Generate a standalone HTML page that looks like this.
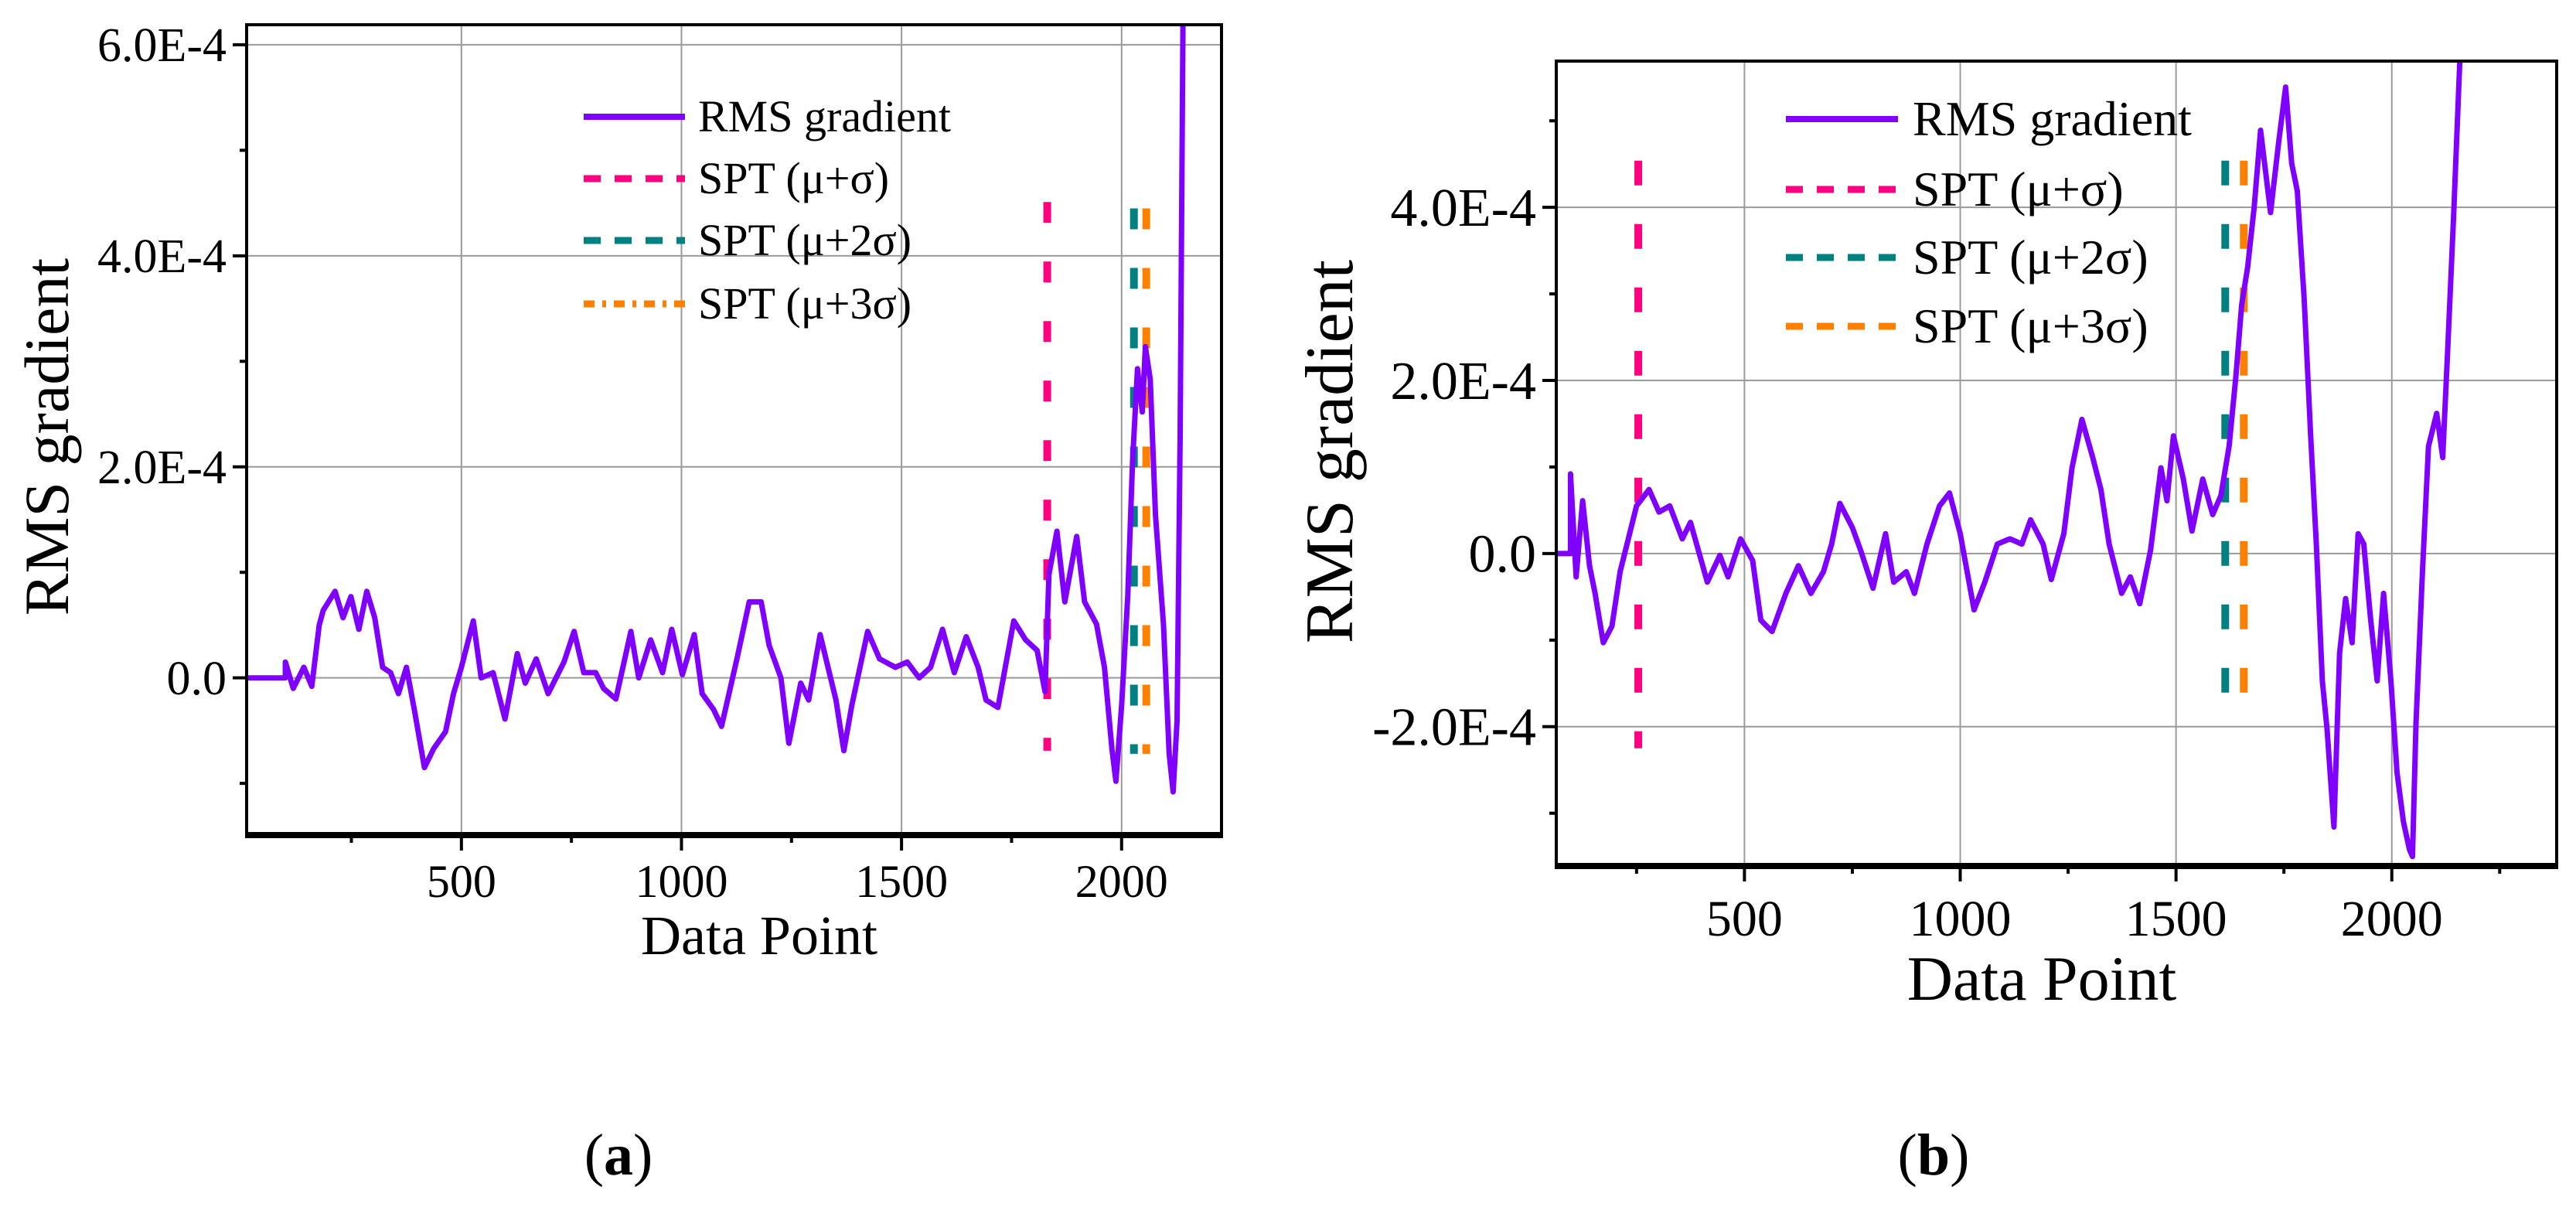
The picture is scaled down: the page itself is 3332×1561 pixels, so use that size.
<!DOCTYPE html>
<html><head><meta charset="utf-8"><style>
html,body{margin:0;padding:0;background:#fff}
svg{display:block}
text{font-family:"Liberation Serif","DejaVu Serif",serif;fill:#000}
</style></head><body>
<svg id="fig" width="3332" height="1561" viewBox="0 0 3332 1561" xmlns="http://www.w3.org/2000/svg">
<text x="800" y="1519" font-size="76" text-anchor="middle">(<tspan font-weight="bold">a</tspan>)</text>
<text x="2501" y="1519" font-size="76" text-anchor="middle">(<tspan font-weight="bold">b</tspan>)</text>
</svg>
<script>
// Panel (a) data
const aX = [12,100,100,118,142,160,177,186,213,231,249,267,285,303,321,339,357,375,393,416,437,464,482,500,527,545,572,599,627,645,670,697,733,756,778,805,823,851,885,903,930,957,978,1002,1029,1047,1073,1091,1127,1154,1181,1199,1226,1244,1271,1289,1315,1333,1351,1369,1387,1423,1450,1486,1513,1540,1566,1593,1620,1647,1674,1692,1719,1755,1782,1808,1826,1835,1853,1871,1898,1916,1943,1961,1978,1987,2000,2014,2025,2036,2047,2054,2065,2077,2095,2108,2117,2126,2133,2140];
const aY = [0,0,0.15,-0.1,0.1,-0.08,0.5,0.64,0.82,0.57,0.77,0.46,0.82,0.57,0.1,0.05,-0.15,0.1,-0.3,-0.85,-0.67,-0.51,-0.15,0.1,0.54,0,0.05,-0.39,0.23,-0.05,0.18,-0.15,0.15,0.44,0.05,0.05,-0.1,-0.2,0.44,0,0.36,0.05,0.46,0.03,0.41,-0.15,-0.3,-0.46,0.2,0.72,0.72,0.31,0,-0.62,-0.05,-0.21,0.41,0.1,-0.21,-0.69,-0.26,0.44,0.18,0.1,0.15,0,0.1,0.46,0.05,0.39,0.1,-0.21,-0.28,0.54,0.36,0.26,-0.13,0.98,1.39,0.72,1.34,0.72,0.51,0.1,-0.67,-0.98,-0.26,0.77,2.06,2.93,2.52,3.14,2.83,1.54,0.51,-0.72,-1.08,-0.41,2.31,6.6];
const aSPT = [1831,2028,2056];
const aSPTtop = [4.51,4.45,4.45];
const aSPTbot = [-0.69,-0.72,-0.72];
const aYTicks = [0,2,4,6];
const aYTickLabels = ["0.0","2.0E-4","4.0E-4","6.0E-4"];
const aYMinor = [-1,1,3,5];
const aXTicks = [500,1000,1500,2000];
const aXMinor = [250,750,1250,1750];
// Panel (b) data
const bX = [64,97,97,110,125,141,154,173,193,212,231,250,279,302,327,356,375,414,443,462,491,519,538,564,596,625,654,683,702,721,750,769,798,827,846,875,894,923,952,975,1000,1032,1057,1086,1115,1143,1163,1192,1211,1240,1259,1282,1307,1326,1345,1374,1394,1416,1441,1465,1479,1494,1517,1537,1562,1585,1604,1623,1639,1652,1666,1681,1696,1719,1738,1754,1768,1781,1797,1812,1825,1839,1850,1866,1879,1893,1908,1922,1935,1950,1966,1981,1998,2012,2027,2041,2048,2056,2071,2085,2104,2118,2129,2143,2160];
const bY = [0,0,0.92,-0.27,0.61,-0.14,-0.46,-1.03,-0.84,-0.21,0.17,0.55,0.74,0.48,0.55,0.17,0.36,-0.33,-0.02,-0.27,0.17,-0.08,-0.77,-0.9,-0.46,-0.14,-0.46,-0.21,0.11,0.58,0.3,0.04,-0.4,0.23,-0.33,-0.21,-0.46,0.11,0.55,0.7,0.23,-0.65,-0.33,0.11,0.17,0.11,0.39,0.11,-0.3,0.23,0.99,1.55,1.11,0.74,0.11,-0.46,-0.27,-0.58,0.04,0.99,0.61,1.36,0.86,0.26,0.86,0.45,0.67,1.24,2.06,2.87,3.31,4.0,4.89,3.94,4.76,5.39,4.51,4.19,2.94,1.36,0.11,-1.47,-2.03,-3.16,-1.15,-0.52,-1.03,0.23,0.11,-0.71,-1.47,-0.46,-1.47,-2.53,-3.1,-3.42,-3.5,-1.97,-0.21,1.24,1.62,1.11,2.31,3.88,6.0];
const bSPT = [254,1614,1657];
const bSPTtop = [4.54,4.54,4.54];
const bSPTbot = [-2.25,-1.62,-1.62];
const bYTicks = [-2,0,2,4];
const bYTickLabels = ["-2.0E-4","0.0","2.0E-4","4.0E-4"];
const bYMinor = [-3,-1,1,3,5];
const bXTicks = [500,1000,1500,2000];
const bXMinor = [250,750,1250,1750,2250];
const legendLabels = ["RMS gradient","SPT (\u03bc+\u03c3)","SPT (\u03bc+2\u03c3)","SPT (\u03bc+3\u03c3)"];
const sptColors = ["#ff0080","#008080","#ff8000"];

const NS = "http://www.w3.org/2000/svg";
const svg = document.getElementById('fig');
function mk(tag, attrs, parent){const e=document.createElementNS(NS,tag);for(const k in attrs)e.setAttribute(k,attrs[k]);(parent||svg).appendChild(e);return e;}

function panel(p){
  const g = mk('g',{});
  
  
  const sx = v => p.L + (v-p.xmin)/(p.xmax-p.xmin)*(p.R-p.L);
  const sy = v => p.B - (v-p.ymin)/(p.ymax-p.ymin)*(p.B-p.T);
  const clip = mk('clipPath',{id:p.id+'clip'},g);
  mk('rect',{x:p.L,y:p.T,width:p.R-p.L,height:p.B-p.T},clip);
  p.xt.forEach(v=>{const l=mk('line',{x1:sx(v),x2:sx(v),y1:p.T,y2:p.B,stroke:'#9a9a9a','stroke-width':2},g);
    
    });
  p.yt.forEach(v=>{const l=mk('line',{x1:p.L,x2:p.R,y1:sy(v),y2:sy(v),stroke:'#9a9a9a','stroke-width':2},g);
    
    });
  p.spt.forEach((v,i)=>{const l=mk('line',{x1:sx(v),x2:sx(v),y1:sy(p.sptTop[i]),y2:sy(p.sptBot[i]),stroke:sptColors[i],'stroke-width':10,'stroke-dasharray':p.dash},g);
    
    });
  const pts = p.x.map((v,i)=>sx(v).toFixed(1)+','+sy(p.y[i]).toFixed(1)).join(' ');
  const pl = mk('polyline',{points:pts,fill:'none',stroke:'#8000ff','stroke-width':p.lw,'stroke-linejoin':'round','clip-path':'url(#'+p.id+'clip)'},g);
  
  
  const fr = mk('rect',{x:p.L,y:p.T,width:p.R-p.L,height:p.B-p.T,fill:'none',stroke:'#000','stroke-width':4},g);
  
  
  const bl = mk('line',{x1:p.L-2,x2:p.R+2,y1:p.B,y2:p.B,stroke:'#000','stroke-width':8},g);
  
  
  p.yt.forEach((v,i)=>{mk('line',{x1:p.L-18,x2:p.L,y1:sy(v),y2:sy(v),stroke:'#000','stroke-width':4},g);
    const t=mk('text',{x:p.L-26,y:sy(v)+p.yfs*0.34,'font-size':p.yfs,'text-anchor':'end'},g);t.textContent=p.ytl[i];
    
    });
  p.ym.forEach(v=>{mk('line',{x1:p.L-9,x2:p.L,y1:sy(v),y2:sy(v),stroke:'#000','stroke-width':4},g);});
  p.xt.forEach(v=>{mk('line',{x1:sx(v),x2:sx(v),y1:p.B,y2:p.B+20,stroke:'#000','stroke-width':4},g);
    const t=mk('text',{x:sx(v),y:p.xly,'font-size':p.xfs,'text-anchor':'middle'},g);t.textContent=String(v);
    
    });
  p.xm.forEach(v=>{mk('line',{x1:sx(v),x2:sx(v),y1:p.B,y2:p.B+10,stroke:'#000','stroke-width':4},g);});
  const xt=mk('text',{x:p.xtx,y:p.xty,'font-size':p.xtfs,'text-anchor':'middle'},g);xt.textContent='Data Point';
  
  
  const yt=mk('text',{x:0,y:0,'font-size':p.ytfs,'text-anchor':'middle',transform:'translate('+(p.ytx+p.ytfs*0.33)+','+p.yty+') rotate(-90)'},g);yt.textContent='RMS gradient';
  
  
  p.legRows.forEach((ry,i)=>{
    const lg=mk('g',{},g);
    
    
    if(i===0) mk('line',{x1:p.legX1,x2:p.legX2,y1:ry,y2:ry,stroke:'#8000ff','stroke-width':8},lg);
    else if(i===3 && p.dashdot) mk('line',{x1:p.legX1,x2:p.legX2,y1:ry,y2:ry,stroke:sptColors[2],'stroke-width':9,'stroke-dasharray':'14 10 5 10'},lg);
    else mk('line',{x1:p.legX1,x2:p.legX2,y1:ry,y2:ry,stroke:sptColors[i-1],'stroke-width':9,'stroke-dasharray':'22 18'},lg);
    const t=mk('text',{x:p.legT,y:ry+p.lfs*0.33,'font-size':p.lfs},lg);t.textContent=legendLabels[i];
  });
}
panel({id:'a',L:319,R:1580,T:32,B:1080,xmin:12,xmax:2227,ymin:-1.49,ymax:6.19,
  x:aX,y:aY,spt:aSPT,sptTop:aSPTtop,sptBot:aSPTbot,dash:'27 50',lw:7,
  xt:aXTicks,xm:aXMinor,yt:aYTicks,ytl:aYTickLabels,ym:aYMinor,
  yfs:62,xfs:60,xly:1160,xtx:982,xty:1234,xtfs:72,ytx:61,yty:565,ytfs:82,
  legRows:[151,231,311,393],legX1:755,legX2:886,legT:903,lfs:58,dashdot:true});
panel({id:'b',L:2013,R:3307,T:79,B:1120,xmin:64,xmax:2382,ymin:-3.61,ymax:5.69,
  x:bX,y:bY,spt:bSPT,sptTop:bSPTtop,sptBot:bSPTbot,dash:'32 50',lw:7,
  xt:bXTicks,xm:bXMinor,yt:bYTicks,ytl:bYTickLabels,ym:bYMinor,
  yfs:70,xfs:66,xly:1210,xtx:2641,xty:1293,xtfs:82,ytx:1720,yty:584,ytfs:88,
  legRows:[154,245,333,422],legX1:2310,legX2:2455,legT:2474,lfs:64,dashdot:false});
</script>
</body></html>
